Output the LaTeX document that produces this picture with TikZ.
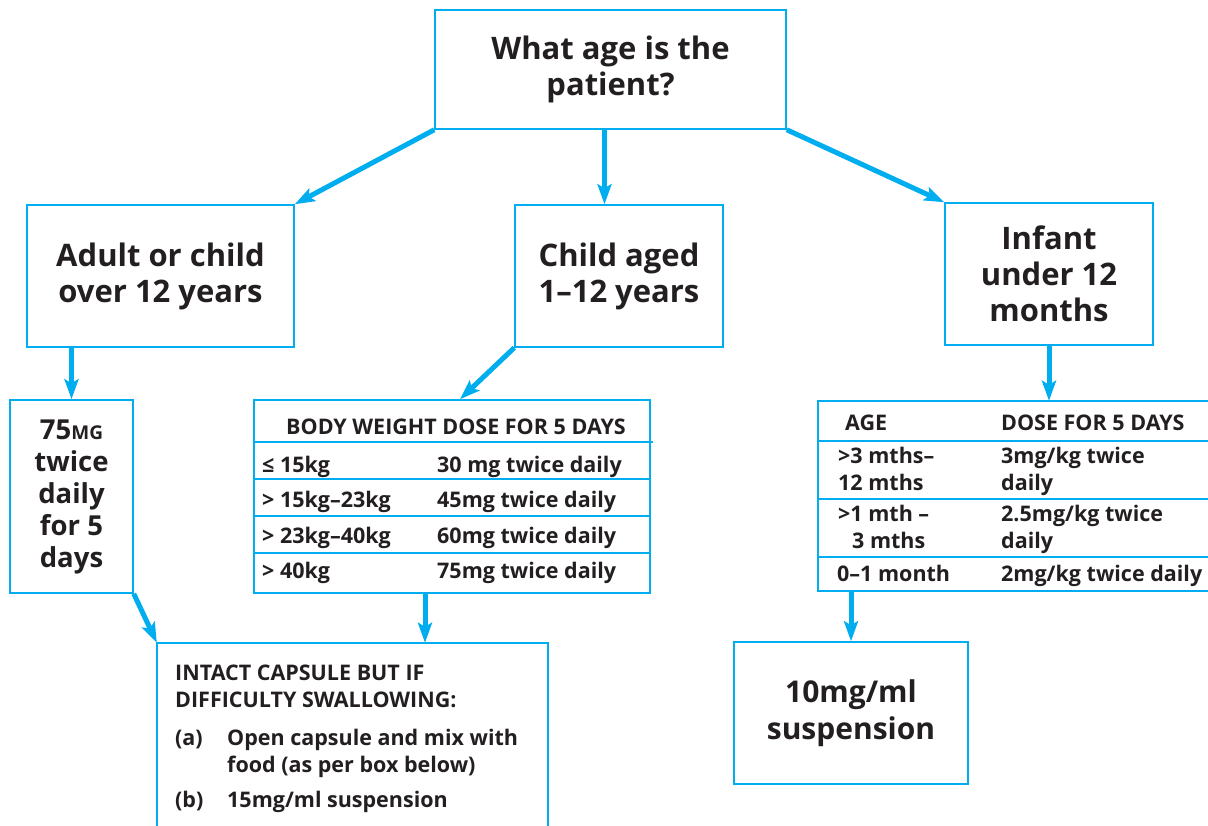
\documentclass[tikz,border=0pt]{standalone}
\usepackage{fontspec}
\setmainfont{Open Sans}
\usetikzlibrary{arrows.meta,calc}
\definecolor{flowblue}{HTML}{00AEEF}
\definecolor{ink}{HTML}{231F20}

\tikzset{
  box/.style={draw=flowblue, line width=1.5pt, text=ink, align=center, inner sep=0pt},
  bigtext/.style={font=\fontsize{31}{36}\selectfont\bfseries},
  arr/.style={draw=flowblue, line width=5pt, -{Stealth[length=20pt,width=14pt,inset=4pt]}},
  cell/.style={anchor=base west, text=ink, inner sep=0pt, align=left,
    font=\fontsize{21.5}{27}\selectfont\bfseries},
  rule/.style={draw=flowblue, line width=1.5pt},
  headrule/.style={draw=flowblue, line width=2.5pt},
}

\begin{document}
\begin{tikzpicture}[x=1pt,y=-1pt]
    \useasboundingbox (0,0) rectangle (1208,826);

    % Question
    \node[box, bigtext, minimum width=351pt, minimum height=119pt] (top) at (610.5,69.5) {What age is the\\patient?};

    % Age groups
    \node[box, bigtext, minimum width=267pt, minimum height=142pt] (adult) at (160.5,276) {Adult or child\\over 12 years};
    \node[box, bigtext, minimum width=208pt, minimum height=142pt] (child) at (619,276) {Child aged\\1–12 years};
    \node[box, bigtext, minimum width=208pt, minimum height=142pt] (infant) at (1049,274) {Infant\\under 12\\months};

    % Adult dose
    \node[box, minimum width=123pt, minimum height=193pt, font=\fontsize{27.5}{32}\selectfont\bfseries] (adultdose) at (71.5,496.5)
      {75{\fontsize{19}{32}\selectfont MG}\\twice\\daily\\for 5\\days};

    % Body weight table
    \node[box, minimum width=396pt, minimum height=193pt] (weight) at (452,496.5) {};
    \draw[headrule] (254,442) -- (653,442);
    \foreach \y in {479,516,553}
      \draw[rule] (254,\y) -- (650,\y);
    \node[cell] (weighthead) at (286,434) {BODY WEIGHT DOSE FOR 5 DAYS};
    \foreach \w/\d/\y [count=\n] in {≤ 15kg/30 mg twice daily/472,
        > 15kg–23kg/45mg twice daily/507,
        > 23kg–40kg/60mg twice daily/543,
        > 40kg/75mg twice daily/578}{
      \node[cell] (weightkg\n) at (262,\y) {\w};
      \node[cell] (weightmg\n) at (437,\y) {\d};
    }

    % Infant table
    \node[inner sep=0pt, minimum width=390pt, minimum height=190pt] (infdose) at (1013,496) {};
    \draw[rule] (infdose.north east) -- (infdose.north west) -- (infdose.south west) -- (infdose.south east);
    \draw[headrule] (818,441) -- (1208,441);
    \draw[rule] (818,499) -- (1208,499);
    \draw[rule] (818,557) -- (1208,557);
    \node[cell] (agehead) at (845,430) {AGE};
    \node[cell] (dosehead) at (1001,430) {DOSE FOR 5 DAYS};
    \node[cell] (age1) at (838,490) {>3 mths–\\12 mths};
    \node[cell] (dose1) at (1001,490) {3mg/kg twice\\daily};
    \node[cell] (age2) at (838,548) {>1 mth –\\\hspace*{14pt}3 mths};
    \node[cell] (dose2) at (1001,548) {2.5mg/kg twice\\daily};
    \node[cell] (age3) at (837,581) {0–1 month};
    \node[cell] (dose3) at (1001,581) {2mg/kg twice daily};

    % Capsule box (open at the bottom)
    \node[inner sep=0pt, minimum width=391pt, minimum height=183pt] (capsule) at (352.5,734.5) {};
    \draw[rule] (capsule.south west) -- (capsule.north west) -- (capsule.north east) -- (capsule.south east);
    \node[cell] (caphead) at (175,707) {INTACT CAPSULE BUT IF\\DIFFICULTY SWALLOWING:};
    \node[cell] (itema) at (175,745) {(a)};
    \node[cell] (texta) at (227,772) {Open capsule and mix with\\food (as per box below)};
    \node[cell] (itemb) at (175,807) {(b)};
    \node[cell] (textb) at (227,807) {15mg/ml suspension};

    % Suspension for infants
    \node[box, minimum width=234pt, minimum height=142pt, font=\fontsize{30}{37}\selectfont\bfseries] (tenmg) at (851,713) {10mg/ml\\suspension};

    % Arrows
    \coordinate (qfoot) at ([xshift=-6pt]top.south);
    \coordinate (weighttop) at ([xshift=8pt]weight.north);
    \coordinate (weightfoot) at ([xshift=-27pt]weight.south);
    \draw[arr] (top.south west) -- (adult.north east);
    \draw[arr] (qfoot) -- (qfoot |- child.north);
    \draw[arr] (top.south east) -- (infant.north west);
    \draw[arr] (adult.south -| adultdose.north) -- (adultdose.north);
    \draw[arr] (child.south west) -- (weighttop);
    \draw[arr] (infant.south) -- (infant.south |- infdose.north);
    \draw[arr] (adultdose.south east) -- (capsule.north west);
    \draw[arr] (weightfoot) -- (weightfoot |- capsule.north);
    \draw[arr] (infdose.south -| tenmg.north) -- (tenmg.north);
\end{tikzpicture}
\end{document}
